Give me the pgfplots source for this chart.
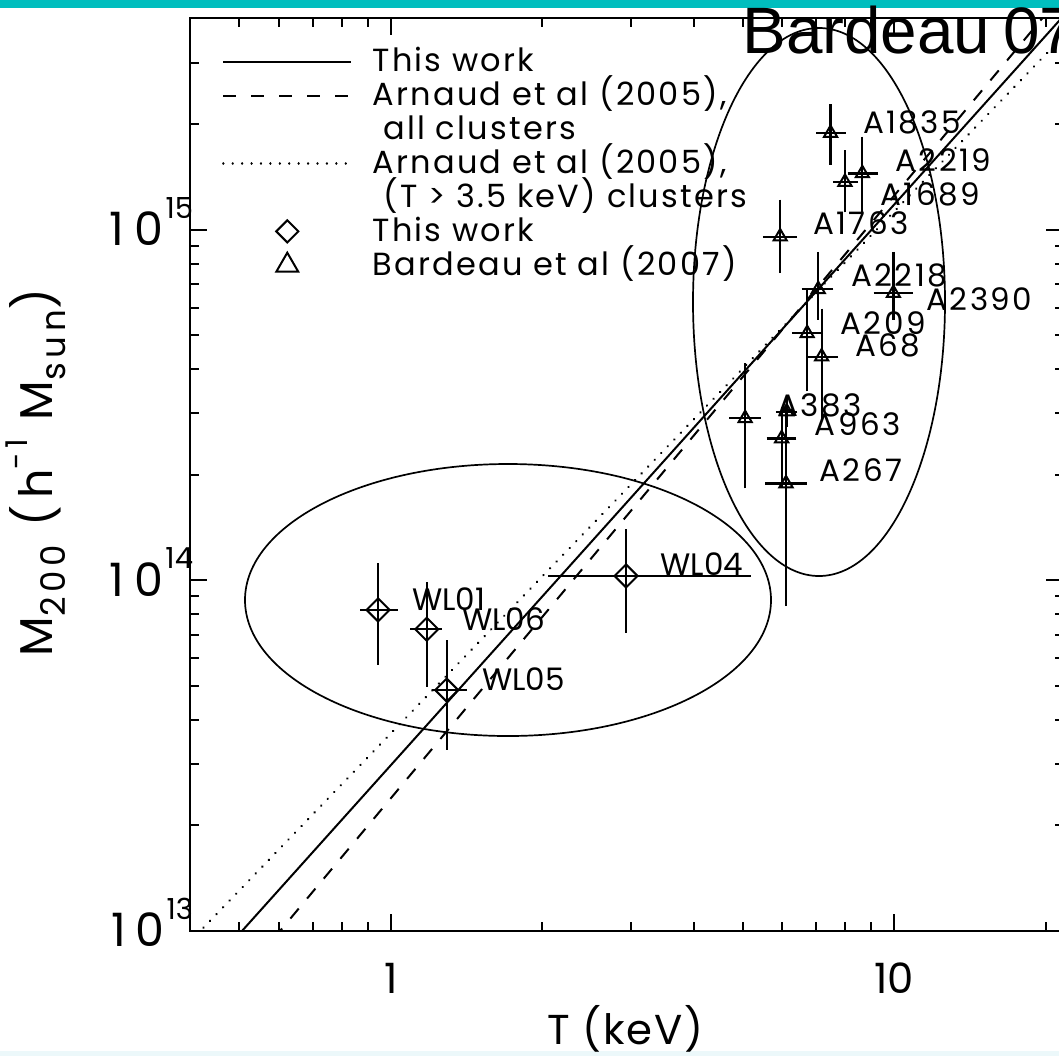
\documentclass[border=0pt]{standalone}
\usepackage{pgfplots}
\pgfplotsset{compat=1.18}
\usepackage{pgfplotstable}
\usepackage{fontspec}
\setmainfont{Poppins}
\newfontfamily\legfont{Poppins}[LetterSpace=7]
\newfontfamily\ylabfont{Poppins}[LetterSpace=14]
\newfontfamily\xlabfont{Poppins}[LetterSpace=4]
\newfontfamily\albl{Poppins}[LetterSpace=8]
\newfontfamily\arialfont{Liberation Sans}
\definecolor{barcyan}{RGB}{0,190,190}
\definecolor{palecyan}{RGB}{236,248,250}

\pgfplotsset{
  linelegend/.style={legend image code/.code={\draw[##1] (0pt,0pt) -- (64pt,0pt);}},
  marklegend/.style={legend image code/.code={\path (0pt,0pt) (64pt,0pt); \draw[##1] plot coordinates {(32pt,0pt)};}},
}
\newcommand{\tenpow}[1]{1\kern5pt0\kern1pt\raisebox{0.6em}{\fontsize{14.5}{15}\selectfont #1}}

% Bardeau et al (2007) clusters: T, M200, and asymmetric errors
\pgfplotstableread{
T     M        xm    xp    ym       yp
7.48  1.89e15  0.26  0.31  0.29e15  0.30e15
8.65  1.45e15  0.32  0.38  0.28e15  0.32e15
7.99  1.37e15  0.20  0.25  0.20e15  0.25e15
5.94  9.57e14  0.29  0.29  1.71e14  2.13e14
7.07  6.77e14  0.32  0.29  0.99e14  1.53e14
9.97  6.60e14  0.59  0.63  0.82e14  1.70e14
6.72  5.07e14  0.27  0.30  1.46e14  1.38e14
7.18  4.35e14  0.28  0.34  1.35e14  1.37e14
5.06  2.90e14  0.21  0.22  0.99e14  1.09e14
6.12  3.03e14  0.12  0.12  0.17e14  0.20e14
5.98  2.54e14  0.23  0.23  0.61e14  0.46e14
6.10  1.89e14  0.39  0.41  1.01e14  1.14e14
}\bardeau

% This work (weak lensing groups)
\pgfplotstableread{
T      M         xm     xp     ym        yp
0.944  8.23e13   0.075  0.090  2.50e13   2.97e13
1.179  7.25e13   0.087  0.084  2.28e13   2.66e13
1.292  4.86e13   0.086  0.124  1.58e13   1.90e13
2.935  1.029e14  0.879  2.255  0.323e14  0.371e14
}\wl

\begin{document}
\begin{tikzpicture}
\useasboundingbox (0,0) rectangle (529.5pt,-528pt);
\clip (0,0) rectangle (529.5pt,-528pt);
\fill[barcyan] (0,0) rectangle (529.5pt,-4pt);
\fill[palecyan] (0,-525.5pt) rectangle (529.5pt,-528pt);
\begin{axis}[
  at={(95.2pt,-465.35pt)}, anchor=south west,
  scale only axis, width=436.5pt, height=456.2pt,
  xmode=log, ymode=log,
  xmin=0.4, xmax=21.7, ymin=1e13, ymax=4.02e15,
  axis line style={line width=1pt},
  every tick/.style={black, line width=1pt},
  major tick length=8.5pt, minor tick length=4.2pt,
  tick align=inside, xtick pos=both, ytick pos=both,
  xticklabel pos=lower, yticklabel pos=left,
  xtick={1,10}, xticklabels={1,10},
  minor xtick={0.5,0.6,0.7,0.8,0.9,2,3,4,5,6,7,8,9,20},
  ytick={1e13,1e14,1e15},
  yticklabels={\tenpow{13},\tenpow{14},\tenpow{15}},
  minor ytick={2e13,3e13,4e13,5e13,6e13,7e13,8e13,9e13,2e14,3e14,4e14,5e14,6e14,7e14,8e14,9e14,2e15,3e15},
  xticklabel style={anchor=base, yshift=-31.3pt, inner sep=0pt, font=\fontsize{20.9}{24}\selectfont},
  yticklabel style={anchor=base east, xshift=1.5pt, yshift=-8pt, inner sep=0pt, font=\fontsize{23}{26}\selectfont},
  xlabel={T (keV)},
  ylabel={M\raisebox{-0.28em}{\fontsize{17}{18}\selectfont 200} (h\raisebox{0.55em}{\fontsize{15}{16}\selectfont -1} M\raisebox{-0.28em}{\fontsize{17}{18}\selectfont sun})},
  xlabel style={at={(axis description cs:0.498,0)}, anchor=base, yshift=-57pt, inner sep=0pt, font=\xlabfont\fontsize{20.9}{24}\selectfont},
  ylabel style={at={(axis description cs:-0.1775,0.502)}, anchor=center, inner sep=0pt, font=\ylabfont\fontsize{23}{26}\selectfont},
  legend style={at={(axis description cs:0.0363,0.9697)}, anchor=north west,
    draw=none, fill=none, inner sep=0pt, outer sep=0pt, row sep=0.95pt,
    font=\legfont\fontsize{16}{19}\selectfont,
    nodes={inner sep=0pt, text height=13pt, text depth=3pt},
    /tikz/every odd column/.style={column sep=10pt}},
  legend cell align=left,
]
\addlegendimage{linelegend, black, line width=1pt}
\addlegendentry{This work}
\addlegendimage{linelegend, black, line width=1pt, dash pattern=on 6.5pt off 7.5pt}
\addlegendentry{Arnaud et al (2005),}
\addlegendimage{empty legend}
\addlegendentry{\ all clusters}
\addlegendimage{linelegend, black, line width=1.2pt, line cap=round, dash pattern=on 0.01pt off 4.7pt}
\addlegendentry{Arnaud et al (2005),}
\addlegendimage{empty legend}
\addlegendentry{\ (T > 3.5 keV) clusters}
\addlegendimage{marklegend, black, only marks, mark=square, mark size=3.9pt, mark options={rotate=45, line width=1pt}}
\addlegendentry{This work}
\addlegendimage{marklegend, black, only marks, mark=triangle, mark size=6.3pt, mark options={line width=1pt}}
\addlegendentry{Bardeau et al (2007)}

% scaling relations
\addplot[black, line width=1pt, forget plot] coordinates {(0.4,6.84e12) (22,4.17e15)};
\addplot[black, line width=1pt, dash pattern=on 6.5pt off 6.5pt, forget plot] coordinates {(0.4,4.93e12) (22,4.86e15)};
\addplot[black, line width=1.3pt, line cap=round, dash pattern=on 0.01pt off 4.7pt, forget plot] coordinates {(0.4,9.33e12) (22,3.65e15)};

% Bardeau et al clusters
\addplot[black, only marks, mark=triangle, mark size=3.8pt, mark options={line width=1pt}, forget plot,
  error bars/.cd, x dir=both, x explicit, y dir=both, y explicit,
  error mark=-, error mark options={black, mark size=3.2pt, line width=1.1pt},
  error bar style={line width=1.1pt}]
  table[x=T, y=M, x error plus=xp, x error minus=xm, y error plus=yp, y error minus=ym] {\bardeau};

% This work
\addplot[black, only marks, mark=square, mark size=4.07pt, mark options={rotate=45, line width=1pt}, forget plot,
  error bars/.cd, x dir=both, x explicit, y dir=both, y explicit,
  error mark=none, error bar style={line width=1.1pt}]
  table[x=T, y=M, x error plus=xp, x error minus=xm, y error plus=yp, y error minus=ym] {\wl};
\end{axis}

\begin{scope}[x=0.5pt, y=-0.5pt]
\draw[line width=0.85pt] (819,302) ellipse [x radius=63pt, y radius=137pt];
\draw[line width=0.85pt] (508,600) ellipse [x radius=131.5pt, y radius=68pt];
\begin{scope}[every node/.style={anchor=base west, inner sep=0pt, font=\fontsize{15.5}{18}\selectfont}]
\node at (411.7,610.7) {WL01};
\node at (461.7,630) {WL06};
\node at (481.7,690) {WL05};
\node at (660,575) {WL04};
\end{scope}
\begin{scope}[every node/.style={anchor=base west, inner sep=0pt, font=\albl\fontsize{15.5}{18}\selectfont}]
\node at (862.7,133.3) {A1835};
\node at (895,171.7) {A2219};
\node at (880,205) {A1689};
\node at (812.7,234) {A1763};
\node at (850.7,286.7) {A2218};
\node at (926,310) {A2390};
\node at (840,334) {A209};
\node at (855,356.7) {A68};
\node at (776.7,416) {A383};
\node at (814.3,435) {A963};
\node at (819,481.7) {A267};
\end{scope}
\node[anchor=base west, inner sep=0pt, font=\arialfont\fontsize{32.8}{36}\selectfont] at (742,53.3) {Bardeau\hspace{0.2em}07};
\end{scope}
\end{tikzpicture}
\end{document}
